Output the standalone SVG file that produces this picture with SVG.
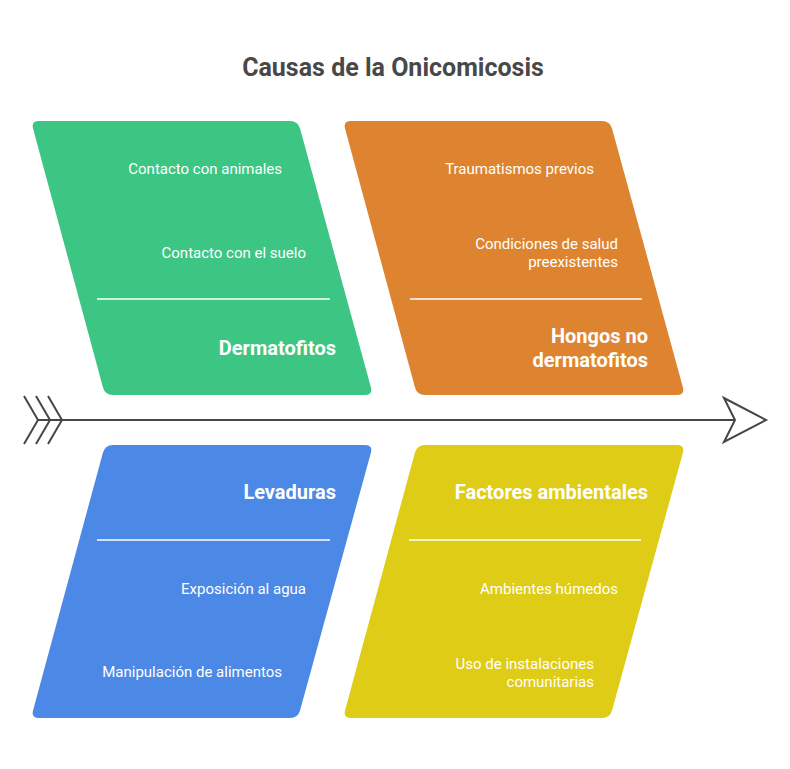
<svg xmlns="http://www.w3.org/2000/svg" width="790" height="769" viewBox="0 0 790 769">
<style>
.t{font-family:Roboto,"Liberation Sans",sans-serif;font-size:15px;fill:#fff;text-anchor:end}
.h{font-family:Roboto,"Liberation Sans",sans-serif;font-size:20px;font-weight:bold;fill:#fff;text-anchor:end}
.sep{stroke:#fff;stroke-width:1.5}
.ax{stroke:#464646;stroke-width:2;fill:none}
</style>
<rect width="790" height="769" fill="#fff"/>
<text x="393" y="76" text-anchor="middle" style="font-family:Roboto,'Liberation Sans',sans-serif;font-size:25px;font-weight:bold;fill:#484848">Causas de la Onicomicosis</text>
<g id="connectors">
<line class="ax" x1="38" y1="420" x2="735" y2="420"/>
<polyline class="ax" points="24,396 38,420 24,444"/>
<polyline class="ax" points="36,396 50,420 36,444"/>
<polyline class="ax" points="48,396 62,420 48,444"/>
<polygon class="ax" points="724,398 766,420 724,442 735,420"/>
</g>
<g id="dermatofitos">
<path fill="#3DC584" d="M39,121 L290,121 Q298,121 300.1,128.7 L370.9,387.3 Q373,395 365,395 L113,395 Q105,395 102.9,387.3 L33.1,128.7 Q31,121 39,121 Z"/>
<text class="t" x="282" y="173.5">Contacto con animales</text>
<text class="t" x="306" y="257.5">Contacto con el suelo</text>
<line class="sep" x1="97" y1="299" x2="330" y2="299"/>
<text class="h" x="336" y="355">Dermatofitos</text>
</g>
<g id="hongos">
<path fill="#DE8430" d="M351,121 L602,121 Q610,121 612.1,128.7 L682.9,387.3 Q685,395 677,395 L425,395 Q417,395 414.9,387.3 L345.1,128.7 Q343,121 351,121 Z"/>
<text class="t" x="594" y="173.5">Traumatismos previos</text>
<text class="t" x="618" y="248.5">Condiciones de salud</text>
<text class="t" x="618" y="266.5">preexistentes</text>
<line class="sep" x1="410" y1="299" x2="642" y2="299"/>
<text class="h" x="648" y="343">Hongos no</text>
<text class="h" x="648" y="367">dermatofitos</text>
</g>
<g id="levaduras">
<path fill="#4C88E5" d="M113,445 L365,445 Q373,445 370.9,452.7 L300.1,710.3 Q298,718 290,718 L39,718 Q31,718 33.1,710.3 L102.9,452.7 Q105,445 113,445 Z"/>
<text class="h" x="336" y="499">Levaduras</text>
<line class="sep" x1="97" y1="540" x2="330" y2="540"/>
<text class="t" x="306" y="593.5">Exposición al agua</text>
<text class="t" x="282" y="676.5">Manipulación de alimentos</text>
</g>
<g id="ambientales">
<path fill="#DFCC16" d="M425,445 L677,445 Q685,445 682.9,452.7 L612.1,710.3 Q610,718 602,718 L351,718 Q343,718 345.1,710.3 L414.9,452.7 Q417,445 425,445 Z"/>
<text class="h" x="648" y="499">Factores ambientales</text>
<line class="sep" x1="409" y1="540" x2="641" y2="540"/>
<text class="t" x="618" y="593.5">Ambientes húmedos</text>
<text class="t" x="594" y="668.5">Uso de instalaciones</text>
<text class="t" x="594" y="686.5">comunitarias</text>
</g>
</svg>
